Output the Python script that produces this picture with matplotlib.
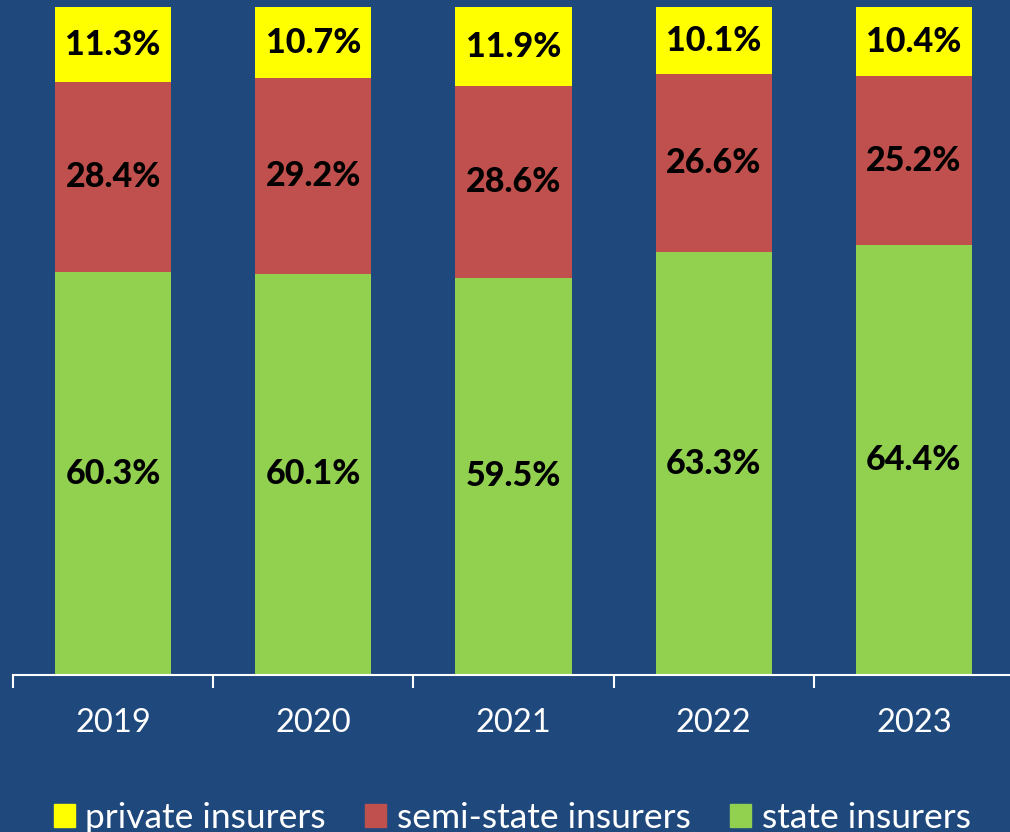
import matplotlib.pyplot as plt
from matplotlib.patches import Patch
import numpy as np

# データ
years = ['2019', '2020', '2021', '2022', '2023']
state = [60.3, 60.1, 59.5, 63.3, 64.4]
semi_state = [28.4, 29.2, 28.6, 26.6, 25.2]
private = [11.3, 10.7, 11.9, 10.1, 10.4]

bg = '#1F497D'
c_state = '#92D050'
c_semi = '#C0504D'
c_private = '#FFFF00'

plt.rcParams['font.family'] = ['Lato', 'DejaVu Sans']

fig = plt.figure(figsize=(10.1, 8.32), dpi=100, facecolor=bg)
ax = fig.add_axes([13 / 1010, 157 / 832, 1001 / 1010, 668 / 832])
ax.set_facecolor(bg)

x = np.arange(len(years))
w = 0.58
b1 = ax.bar(x, state, w, color=c_state, label='state insurers')
b2 = ax.bar(x, semi_state, w, bottom=state, color=c_semi, label='semi-state insurers')
bottom2 = np.array(state) + np.array(semi_state)
b3 = ax.bar(x, private, w, bottom=bottom2, color=c_private, label='private insurers')

for bars in (b1, b2, b3):
    ax.bar_label(bars, fmt='%.1f%%', label_type='center',
                 fontsize=24.5, fontweight='black', color='black')

ax.set_xlim(-0.5, len(years) - 0.5)
ax.set_ylim(0, 100)

# 目盛りは区切り位置、ラベルは中央
ax.set_xticks(np.arange(-0.5, len(years), 1.0))
ax.set_xticklabels([])
ax.set_xticks(x, minor=True)
ax.set_xticklabels(years, minor=True)
ax.tick_params(axis='x', which='major', length=9, width=1.5, color='white', direction='out')
ax.tick_params(axis='x', which='minor', length=0, pad=24, labelsize=23.5, labelcolor='white')
ax.set_yticks([])

for s in ['left', 'right', 'top']:
    ax.spines[s].set_visible(False)
ax.spines['bottom'].set_color('white')
ax.spines['bottom'].set_linewidth(1.5)

handles = [Patch(color=c_private, label='private insurers'),
           Patch(color=c_semi, label='semi-state insurers'),
           Patch(color=c_state, label='state insurers')]
fig.legend(handles=handles, loc='center', bbox_to_anchor=(0.507, 0.017), ncol=3,
           frameon=False, fontsize=25.5, labelcolor='white',
           handlelength=0.6, handleheight=0.6, handletextpad=0.3, columnspacing=1.1)

plt.savefig('out.png', dpi=100, facecolor=bg)
